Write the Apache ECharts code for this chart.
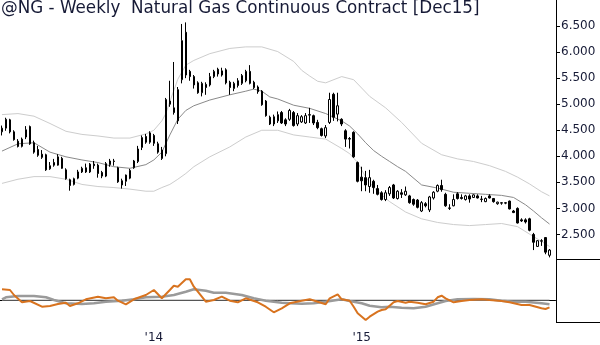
<!DOCTYPE html>
<html>
<head>
<meta charset="utf-8">
<title>@NG Weekly</title>
<script src="https://cdn.jsdelivr.net/npm/echarts@6/dist/echarts.min.js"></script>
<style>
  html, body { margin: 0; padding: 0; background: #fff; }
  #chart { width: 600px; height: 345px; }
</style>
</head>
<body>
<div id="chart"></div>
<script>
// Weekly bars of the natural gas continuous contract, Apr 2013 - Nov 2015.
const titleText = '@NG - Weekly  Natural Gas Continuous Contract [Dec15]';

// One category per week (Friday); the last slot is left empty as right padding.
const weeks = [];
for (let k = 0; k < 139; k++) {
  weeks.push(new Date(Date.UTC(2013, 3, 12 + 7 * k)).toISOString().slice(0, 10));
}

// Weekly open / close / low / high
const openPx = [4.47,4.54,4.70,4.47,4.29,4.19,4.37,4.57,4.26,4.13,4.04,4.03,3.76,3.88,3.83,3.96,3.74,3.55,3.46,3.58,
  3.70,3.78,3.70,3.85,3.83,3.69,3.62,3.84,3.90,3.78,3.53,3.52,3.58,3.78,3.90,4.17,4.38,4.27,4.40,4.24,4.12,
  4.05,5.06,4.93,4.68,5.47,6.38,5.63,5.53,5.41,5.22,5.38,5.37,5.53,5.67,5.56,5.66,5.42,5.30,5.45,5.40,
  5.45,5.63,5.42,5.33,5.25,5.06,4.75,4.62,4.68,4.84,4.70,4.71,4.84,4.62,4.66,4.64,4.79,4.78,4.65,4.53,
  4.39,4.65,5.19,4.81,4.71,4.49,4.34,4.46,3.88,3.60,3.59,3.42,3.52,3.38,3.30,3.17,3.28,3.45,3.19,3.30,
  3.26,3.24,3.17,3.16,2.95,3.09,2.97,3.20,3.33,3.44,3.27,3.00,3.05,3.28,3.21,3.17,3.24,3.21,3.24,3.17,
  3.13,3.24,3.19,3.09,3.10,3.10,3.14,2.95,3.00,2.78,2.78,2.80,2.50,2.27,2.37,2.44,2.10];
const closePx = [4.54,4.71,4.47,4.32,4.19,4.33,4.51,4.24,4.08,4.02,3.98,3.74,3.82,3.83,3.99,3.77,3.57,3.44,3.57,3.70,
  3.77,3.70,3.85,3.82,3.67,3.62,3.86,3.91,3.91,3.51,3.45,3.64,3.73,3.91,4.14,4.36,4.27,4.45,4.25,4.08,3.96,
  5.09,5.00,4.84,5.28,6.22,5.56,5.53,5.37,5.22,5.40,5.32,5.53,5.63,5.58,5.64,5.41,5.32,5.40,5.36,5.55,
  5.63,5.40,5.32,5.24,4.99,4.78,4.62,4.76,4.80,4.64,4.62,4.88,4.59,4.78,4.76,4.78,4.80,4.64,4.55,4.40,
  4.55,5.09,4.75,4.97,4.62,4.33,4.33,3.99,3.52,3.53,3.45,3.59,3.40,3.27,3.17,3.30,3.40,3.20,3.33,3.27,
  3.33,3.11,3.08,3.02,3.11,3.05,3.22,3.31,3.44,3.36,3.05,3.01,3.17,3.19,3.19,3.24,3.18,3.26,3.20,3.18,
  3.19,3.20,3.13,3.12,3.11,3.11,2.99,2.92,2.72,2.76,2.74,2.58,2.35,2.38,2.38,2.16,2.20];
const lowPx = [4.40,4.49,4.44,4.30,4.17,4.17,4.33,4.22,4.05,3.99,3.95,3.72,3.74,3.80,3.82,3.76,3.55,3.34,3.44,3.56,
  3.68,3.68,3.68,3.76,3.59,3.58,3.60,3.80,3.82,3.49,3.38,3.43,3.56,3.76,3.87,4.12,4.24,4.24,4.20,4.05,3.93,
  4.00,4.95,4.80,4.62,5.40,5.50,5.45,5.30,5.20,5.15,5.18,5.34,5.50,5.53,5.53,5.38,5.18,5.25,5.32,5.37,
  5.42,5.38,5.29,5.20,4.97,4.76,4.60,4.58,4.64,4.62,4.58,4.68,4.57,4.58,4.64,4.62,4.64,4.60,4.52,4.38,
  4.35,4.62,4.68,4.67,4.58,4.18,4.15,3.97,3.50,3.33,3.33,3.30,3.28,3.25,3.15,3.14,3.24,3.18,3.17,3.20,
  3.24,3.09,3.05,3.00,2.93,3.02,2.93,3.17,3.31,3.32,3.03,2.97,3.04,3.17,3.17,3.15,3.11,3.20,3.19,3.12,
  3.12,3.19,3.11,3.07,3.07,3.08,2.98,2.91,2.71,2.74,2.71,2.56,2.20,2.26,2.28,2.12,2.06];
const highPx = [4.59,4.74,4.72,4.50,4.33,4.36,4.58,4.59,4.30,4.20,4.12,4.05,3.89,3.95,4.04,3.99,3.77,3.57,3.59,3.74,
  3.80,3.86,3.87,3.91,3.86,3.72,3.89,3.95,3.95,3.80,3.57,3.65,3.76,3.93,4.20,4.40,4.43,4.48,4.43,4.28,4.18,
  5.12,5.45,5.81,5.33,6.54,6.57,5.66,5.56,5.44,5.43,5.42,5.60,5.66,5.70,5.70,5.69,5.45,5.43,5.50,5.58,
  5.66,5.75,5.45,5.36,5.27,5.08,4.78,4.80,4.86,4.87,4.73,4.91,4.87,4.83,4.79,4.83,4.93,4.80,4.70,4.55,
  4.60,5.22,5.22,5.22,4.73,4.52,4.37,4.48,3.90,3.80,3.72,3.74,3.55,3.45,3.33,3.35,3.43,3.47,3.35,3.37,
  3.42,3.26,3.19,3.18,3.14,3.12,3.24,3.33,3.46,3.55,3.30,3.08,3.27,3.31,3.27,3.26,3.27,3.27,3.27,3.24,
  3.21,3.27,3.20,3.13,3.12,3.12,3.15,2.97,3.02,2.81,2.81,2.82,2.53,2.39,2.41,2.45,2.22];

// Channel lines around price: [week index, value]
const upperBand = [[0,4.80],[4,4.82],[8,4.77],[12,4.63],[16,4.48],[20,4.42],[24,4.39],[28,4.35],[32,4.35],
  [36,4.43],[38,4.50],[40,4.68],[41,4.82],[42,5.05],[44,5.48],[46,5.75],[48,5.84],[52,5.97],[57,6.07],
  [61,6.10],[65,6.10],[69,6.01],[73,5.82],[75,5.65],[77,5.54],[79,5.44],[81,5.41],[85,5.53],[88,5.47],
  [92,5.15],[96,4.93],[100,4.65],[105,4.25],[110,4.03],[114,3.95],[118,3.90],[122,3.82],[126,3.71],
  [129,3.60],[132,3.47],[135,3.32],[137,3.24]];
const midBand = [[0,4.10],[4,4.24],[8,4.26],[12,4.08],[16,3.99],[20,3.93],[24,3.88],[28,3.80],[32,3.77],
  [36,3.84],[38,3.93],[40,4.08],[42,4.41],[44,4.71],[46,4.88],[48,4.97],[52,5.08],[57,5.18],[61,5.25],
  [63,5.29],[65,5.25],[67,5.14],[69,5.10],[73,4.98],[77,4.92],[81,4.82],[85,4.68],[87,4.58],[89,4.43],
  [91,4.26],[93,4.11],[95,4.00],[97,3.90],[99,3.80],[101,3.71],[105,3.45],[109,3.39],[113,3.31],
  [117,3.29],[121,3.27],[125,3.25],[128,3.21],[131,3.07],[133,2.95],[135,2.82],[137,2.70]];
const lowerBand = [[0,3.48],[4,3.56],[8,3.61],[12,3.61],[16,3.56],[20,3.46],[24,3.42],[28,3.40],[32,3.37],
  [36,3.33],[38,3.33],[40,3.40],[42,3.46],[44,3.56],[46,3.67],[48,3.80],[52,3.99],[57,4.18],[61,4.37],
  [65,4.50],[69,4.50],[73,4.41],[77,4.37],[81,4.33],[85,4.15],[87,4.05],[89,3.88],[91,3.60],[93,3.40],
  [95,3.26],[97,3.13],[101,2.93],[105,2.80],[109,2.73],[113,2.69],[117,2.67],[121,2.69],[125,2.71],
  [129,2.65],[133,2.46],[137,2.27]];

// Lower study: oscillator (orange), its average (grey), zero line
const oscFast = [[0,10.7],[2,10],[3,5],[5,-2.3],[7,-1],[10,-6.7],[12,-6],[14,-4],[16,-2.7],[17,-6],[19,-3.3],
  [21,0.7],[24,3.3],[26,1.7],[28,2.7],[29,-0.7],[31,-4.3],[33,0.7],[36,5],[38,10],[40,1.7],[42,10],[43,14.3],
  [44,13.3],[46,20.7],[47,20.7],[48,13.3],[50,3.3],[51,-1.7],[53,0],[55,3.3],[57,-0.7],[59,-2.3],[61,1.7],
  [64,-2.3],[66,-6.7],[68,-12.3],[70,-8.3],[72,-3.3],[75,-0.7],[77,0.7],[79,-1.7],[81,-4.3],[82,1.7],
  [84,5.7],[85,0.7],[87,-0.7],[88,-6.7],[89,-13.3],[91,-20],[92,-16.7],[94,-11.7],[95,-10],[96,-9.3],
  [98,-2.3],[99,-1],[101,-2.7],[102,-1.7],[104,-2.7],[106,-4.3],[108,-1.7],[109,2.7],[110,4.3],[111,1.7],
  [113,-2.3],[115,-1],[117,0],[120,0.7],[122,0],[125,-1],[127,-2.3],[130,-5],[132,-5],[135,-8.3],
  [136,-9],[137,-7.3]];
const oscSlow = [[0,0.7],[1,2.7],[4,4],[8,4],[11,2.7],[13,0],[16,-3.3],[20,-4],[23,-3.3],[26,-1.7],[30,-0.7],
  [33,0.7],[36,2.7],[40,3.3],[43,5],[46,8.3],[48,10.7],[51,9.3],[53,7.3],[56,7.3],[60,5],[63,1.7],[66,-0.7],
  [70,-2.7],[72,-3.3],[75,-3.7],[78,-3.3],[81,-1.7],[85,0.7],[87,-1],[90,-3.3],[92,-5.7],[95,-7.3],
  [97,-6.7],[100,-7.7],[103,-8.3],[106,-6.7],[109,-3.3],[111,-1],[114,0.7],[118,1],[122,0.7],[125,-0.7],
  [128,-1.7],[131,-1.7],[135,-3.3],[137,-4.3]];
const oscZero = [[0,0],[137,0]];

const FONT = 'DejaVu Sans';
const INK = '#161a36';

const isQuarterStart = (i, v) => {
  const m = +v.slice(5, 7), d = +v.slice(8, 10);
  return (m - 1) % 3 === 0 && d <= 7;
};
const isYearStart = (i, v) => v.slice(5, 7) === '01' && +v.slice(8, 10) <= 7;

const candles = openPx.map((o, i) => [o, closePx[i], lowPx[i], highPx[i]]);

const lineSeries = (name, data, color, width, xi, yi, z) => ({
  name, type: 'line', data, xAxisIndex: xi, yAxisIndex: yi, z,
  symbol: 'none', silent: true,
  lineStyle: { color, width },
  emphasis: { disabled: true }
});

const chart = echarts.init(document.getElementById('chart'), null, { renderer: 'canvas' });
chart.setOption({
  animation: false,
  backgroundColor: '#fff',
  title: {
    text: titleText, left: 1, top: 0, padding: 0,
    textStyle: { fontFamily: FONT, fontSize: 16.75, fontWeight: 'normal', color: INK }
  },
  grid: [
    { left: -0.5, width: 556, top: -4.5, height: 265 },
    { left: -0.5, width: 556, top: 260, height: 62 }
  ],
  xAxis: [
    { type: 'category', gridIndex: 0, data: weeks, boundaryGap: true, show: false },
    {
      type: 'category', gridIndex: 1, data: weeks, boundaryGap: true,
      axisLine: { lineStyle: { color: '#000', width: 1 } },
      axisTick: { interval: isQuarterStart, alignWithLabel: true, length: 5, lineStyle: { color: '#000' } },
      axisLabel: {
        interval: isYearStart, formatter: v => "'" + v.slice(2, 4),
        fontFamily: FONT, fontSize: 12, color: INK, margin: 10
      },
      splitLine: { show: false }
    }
  ],
  yAxis: [
    {
      type: 'value', gridIndex: 0, position: 'right', offset: 0.5, min: 2, max: 7, interval: 0.5,
      axisLine: { show: true, lineStyle: { color: '#000' } },
      axisTick: { show: true, length: 4, lineStyle: { color: '#000' } },
      axisLabel: {
        formatter: v => v.toFixed(3), showMinLabel: false, showMaxLabel: false,
        margin: 5, fontFamily: FONT, fontSize: 12, color: INK
      },
      splitLine: { show: false }
    },
    {
      type: 'value', gridIndex: 1, position: 'right', offset: 0.5, min: -22, max: 40,
      axisLine: { show: true, lineStyle: { color: '#000' } },
      axisTick: { show: false }, axisLabel: { show: false }, splitLine: { show: false }
    }
  ],
  graphic: [
    { type: 'line', shape: { x1: 556, y1: 259.5, x2: 600, y2: 259.5 }, style: { stroke: '#000', lineWidth: 1 }, silent: true },
    { type: 'line', shape: { x1: 556, y1: 322.5, x2: 600, y2: 322.5 }, style: { stroke: '#000', lineWidth: 1 }, silent: true }
  ],
  series: [
    lineSeries('Upper', upperBand, '#cdcdcd', 1, 0, 0, 1),
    lineSeries('Lower', lowerBand, '#cdcdcd', 1, 0, 0, 1),
    lineSeries('Average', midBand, '#8a8a8a', 1, 0, 0, 1),
    {
      name: '@NG', type: 'candlestick', data: candles, xAxisIndex: 0, yAxisIndex: 0, z: 3,
      barWidth: 2, silent: true,
      itemStyle: { color: '#fff', color0: '#000', borderColor: '#000', borderColor0: '#000', borderWidth: 1 },
      emphasis: { disabled: true }
    },
    lineSeries('Zero', oscZero, '#ababab', 1, 1, 1, 1),
    lineSeries('Signal', oscSlow, '#9a9a9a', 2.5, 1, 1, 2),
    lineSeries('Oscillator', oscFast, '#d8731f', 2, 1, 1, 3)
  ]
});
</script>
</body>
</html>
